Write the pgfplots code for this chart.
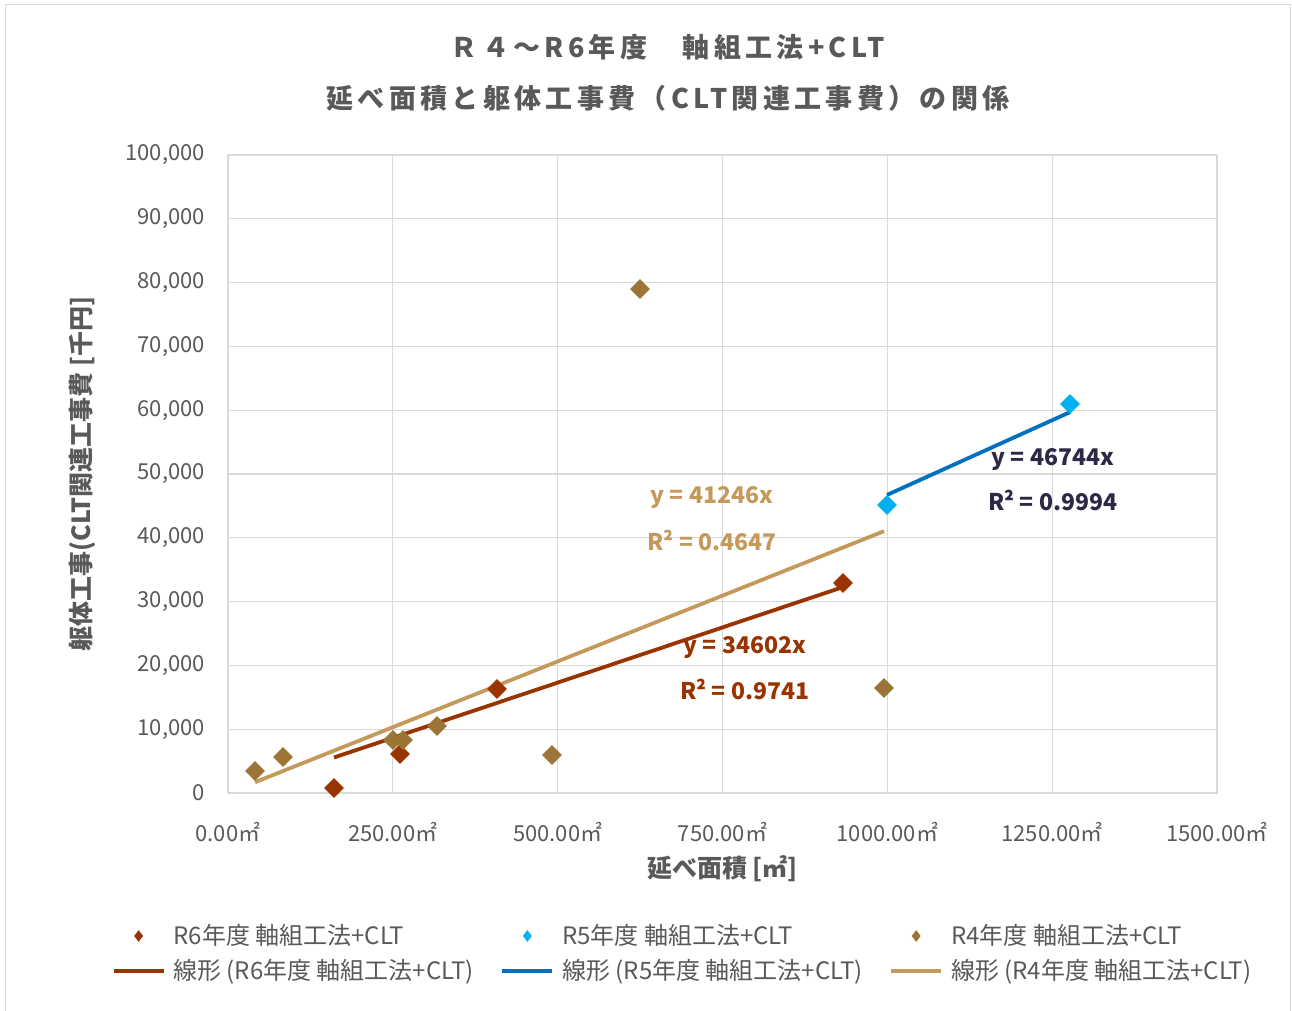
\documentclass[border=0pt]{standalone}
\usepackage{fontspec}
\setmainfont{Noto Sans CJK JP}
\newfontfamily\titlefont[LetterSpace=16]{Noto Sans CJK JP}
\usepackage{pgfplots}
\pgfplotsset{compat=1.18}

\definecolor{rsix}{HTML}{993300}
\definecolor{rfive}{HTML}{00B0F0}
\definecolor{rfiveline}{HTML}{0070C0}
\definecolor{rfour}{HTML}{9C7436}
\definecolor{rfourline}{HTML}{C49A5C}
\definecolor{rfivetext}{HTML}{2B2945}
\definecolor{txtgray}{HTML}{595959}
\definecolor{gridgray}{HTML}{D9D9D9}

% 1 px of the reference = 0.5pt
\tikzset{
  pt marks/.style={only marks, mark=square*, mark size=3.3pt,
                   mark options={rotate=45, draw=#1, fill=#1}, color=#1},
  trend/.style={color=#1, line width=1.9pt},
}
\pgfplotsset{
  lineleg/.style={legend image code/.code={\draw[##1] (0pt,0pt) -- (25pt,0pt);}},
  markleg/.style={legend image code/.code={\draw[mark=diamond*, mark size=2.6pt,
      mark options={draw=#1,fill=#1}] plot coordinates {(12.5pt,0pt)};}},
}
\newcommand{\legtext}[1]{\makebox[161.5pt][l]{\strut #1}}

\begin{document}
\begin{tikzpicture}
  \useasboundingbox (0,0) rectangle (646pt,505.5pt);
  \draw[gridgray, line width=0.5pt] (2.5pt,0pt) -- (2.5pt,503pt) -- (645pt,503pt) -- (645pt,0pt);

  % title
  \node[font=\titlefont\fontsize{13.5}{16}\selectfont\bfseries, text=txtgray]
    at (334pt,482pt) {Ｒ４～R6年度　軸組工法+CLT};
  \node[font=\titlefont\fontsize{13.5}{16}\selectfont\bfseries, text=txtgray]
    at (334pt,456.5pt) {延べ面積と躯体工事費（CLT関連工事費）の関係};

  \begin{axis}[
    at={(114pt,109pt)}, anchor=south west,
    scale only axis, width=494.5pt, height=319pt,
    xmin=0, xmax=1500, ymin=0, ymax=100000,
    xtick={0,250,500,750,1000,1250,1500},
    xticklabels={0.00㎡,250.00㎡,500.00㎡,750.00㎡,1000.00㎡,1250.00㎡,1500.00㎡},
    ytick={0,10000,...,100000},
    yticklabels={0,{10,000},{20,000},{30,000},{40,000},{50,000},{60,000},{70,000},{80,000},{90,000},{100,000}},
    scaled y ticks=false,
    major tick length=0pt,
    axis line style={gridgray},
    grid=major, grid style={gridgray, line width=0.6pt},
    tick label style={font=\fontsize{11}{13}\selectfont, text=txtgray},
    xticklabel style={yshift=-11pt},
    yticklabel style={xshift=-8pt},
    xlabel={延べ面積 [㎡]},
    ylabel={躯体工事(CLT関連工事費 [千円]},
    label style={font=\fontsize{12.5}{15}\selectfont\bfseries, text=txtgray},
    xlabel style={yshift=0pt},
    ylabel style={yshift=8pt},
    legend columns=3,
    legend style={at={(-0.118,-0.199)}, anchor=north west, draw=none, fill=none,
      font=\fontsize{12}{14}\selectfont, text=txtgray, inner sep=0pt,
      row sep=2pt, /tikz/every odd column/.style={column sep=2pt}},
    legend cell align=left,
    clip=false,
  ]
    % markers
    \addplot[pt marks=rsix, markleg=rsix]
      coordinates {(160.8,784) (260.9,6113) (408,16300) (932.8,32915)};
    \addlegendentry{\legtext{R6年度 軸組工法+CLT}}
    \addplot[pt marks=rfive, markleg=rfive]
      coordinates {(999.5,45141) (1277,60972)};
    \addlegendentry{\legtext{R5年度 軸組工法+CLT}}
    \addplot[pt marks=rfour, markleg=rfour]
      coordinates {(41,3448) (83.4,5643) (250.3,8307) (265.4,8307) (317,10502)
                   (491.4,5956) (624.9,79000) (995,16458)};
    \addlegendentry{\legtext{R4年度 軸組工法+CLT}}

    % linear trendlines through origin, drawn between min and max x
    \addplot[trend=rsix, lineleg]
      coordinates {(160.8,5564) (932.8,32277)};
    \addlegendentry{\legtext{線形 (R6年度 軸組工法+CLT)}}
    \addplot[trend=rfiveline, lineleg]
      coordinates {(999.5,46721) (1277,59692)};
    \addlegendentry{\legtext{線形 (R5年度 軸組工法+CLT)}}
    \addplot[trend=rfourline, lineleg]
      coordinates {(41,1691) (995,41040)};
    \addlegendentry{\legtext{線形 (R4年度 軸組工法+CLT)}}

    % equations
    \begin{scope}[every node/.style={font=\fontsize{11.5}{14}\selectfont\bfseries}]
      \node[text=rfourline] at (axis cs:734,46240) {y = 41246x};
      \node[text=rfourline] at (axis cs:734,39650) {R² = 0.4647};
      \node[text=rsix] at (axis cs:784,22730) {y = 34602x};
      \node[text=rsix] at (axis cs:784,16300) {R² = 0.9741};
      \node[text=rfivetext] at (axis cs:1251,52200) {y = 46744x};
      \node[text=rfivetext] at (axis cs:1251,45900) {R² = 0.9994};
    \end{scope}
  \end{axis}
\end{tikzpicture}
\end{document}
